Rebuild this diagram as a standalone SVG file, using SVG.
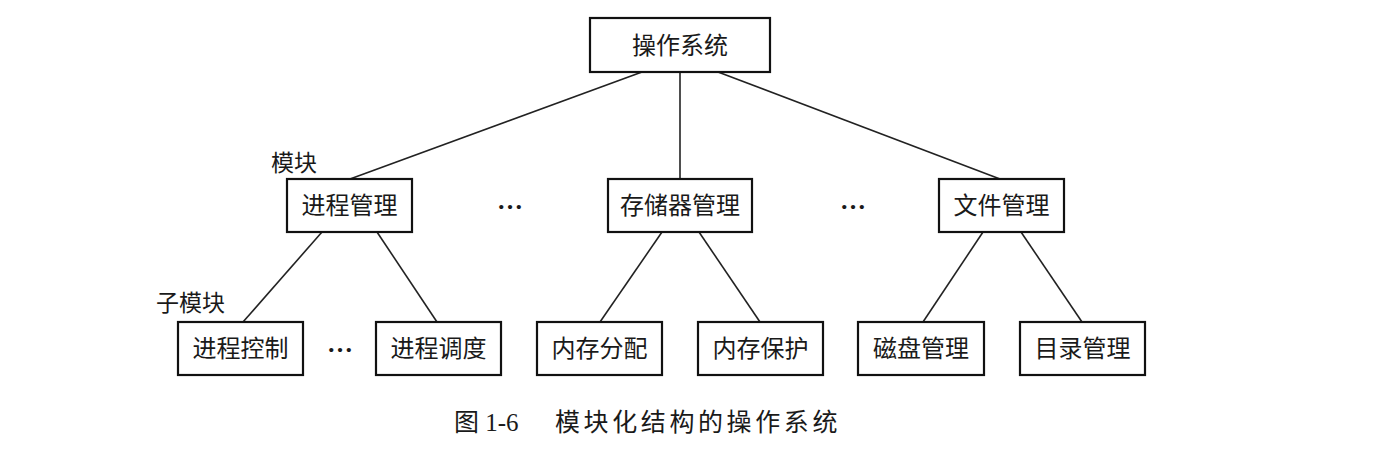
<svg xmlns="http://www.w3.org/2000/svg" width="1380" height="454" viewBox="0 0 1380 454">
<style>
.box{fill:#fff;stroke:#111;stroke-width:2.2}
.t{font-family:"Noto Sans CJK SC","Liberation Serif",serif;font-size:24px;fill:#1a1a1a;text-anchor:middle}
.lbl{font-family:"Noto Sans CJK SC","Liberation Serif",serif;font-size:23px;fill:#1a1a1a}
.dots{font-family:"Liberation Serif","Noto Sans CJK SC",serif;font-size:26px;font-weight:bold;fill:#1a1a1a;text-anchor:middle}
.cap{font-family:"Liberation Serif","Noto Sans CJK SC",serif;font-size:25px;fill:#1a1a1a}
#connectors line{stroke:#222;stroke-width:1.6}
</style>
<rect width="1380" height="454" fill="#fff"/>
<g id="connectors">
<line x1="642" y1="72" x2="350" y2="179"/>
<line x1="680" y1="72" x2="680" y2="179"/>
<line x1="718" y1="72" x2="1000" y2="179"/>
<line x1="322" y1="232" x2="243" y2="322"/>
<line x1="377" y1="232" x2="437" y2="322"/>
<line x1="662" y1="232" x2="600" y2="322"/>
<line x1="699" y1="232" x2="760" y2="322"/>
<line x1="983" y1="232" x2="923" y2="322"/>
<line x1="1021" y1="232" x2="1082" y2="322"/>
</g>
<g id="n-os"><rect class="box" x="590" y="18" width="180" height="54"/><text class="t" x="680" y="53.5">操作系统</text></g>
<g id="n-proc"><rect class="box" x="287" y="179" width="125" height="53"/><text class="t" x="349.5" y="214">进程管理</text></g>
<g id="n-mem"><rect class="box" x="608" y="179" width="144" height="53"/><text class="t" x="680" y="214">存储器管理</text></g>
<g id="n-file"><rect class="box" x="939" y="179" width="125" height="53"/><text class="t" x="1001.5" y="214">文件管理</text></g>
<g id="n-pctl"><rect class="box" x="178" y="322" width="125" height="53"/><text class="t" x="240.5" y="357">进程控制</text></g>
<g id="n-psch"><rect class="box" x="376" y="322" width="125" height="53"/><text class="t" x="438.5" y="357">进程调度</text></g>
<g id="n-malloc"><rect class="box" x="537" y="322" width="125" height="53"/><text class="t" x="599.5" y="357">内存分配</text></g>
<g id="n-mprot"><rect class="box" x="698" y="322" width="125" height="53"/><text class="t" x="760.5" y="357">内存保护</text></g>
<g id="n-disk"><rect class="box" x="858" y="322" width="126" height="53"/><text class="t" x="921" y="357">磁盘管理</text></g>
<g id="n-dir"><rect class="box" x="1020" y="322" width="125" height="53"/><text class="t" x="1082.5" y="357">目录管理</text></g>
<g id="labels">
<text class="lbl" x="271" y="171">模块</text>
<text class="lbl" x="156" y="311">子模块</text>
<text class="dots" x="510" y="209">…</text>
<text class="dots" x="853" y="209">…</text>
<text class="dots" x="340" y="352">…</text>
</g>
<g id="caption">
<text class="cap" x="454" y="431">图 1-6</text>
<text class="cap" x="555" y="431" letter-spacing="3.6">模块化结构的操作系统</text>
</g>
</svg>
